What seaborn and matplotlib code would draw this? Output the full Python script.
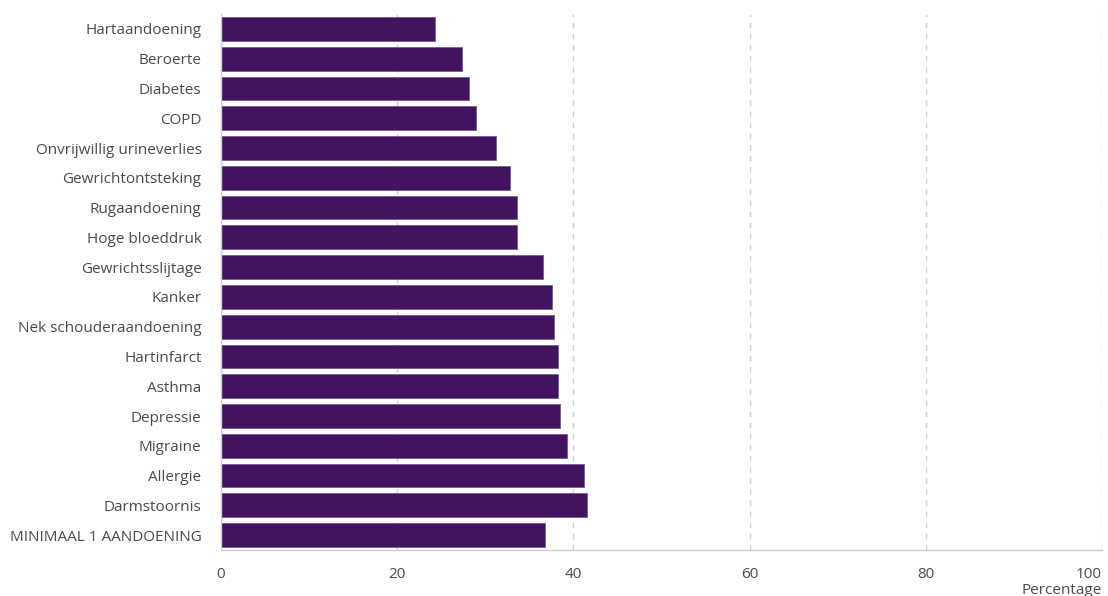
import pandas as pd
import numpy as np
import matplotlib
matplotlib.use("Agg")
import matplotlib.pyplot as plt
import seaborn as sns

# --- data ---
aandoeningen = [
    "Hartaandoening", "Beroerte", "Diabetes", "COPD",
    "Onvrijwillig urineverlies", "Gewrichtontsteking", "Rugaandoening",
    "Hoge bloeddruk", "Gewrichtsslijtage", "Kanker", "Nek schouderaandoening",
    "Hartinfarct", "Asthma", "Depressie", "Migraine", "Allergie",
    "Darmstoornis", "MINIMAAL 1 AANDOENING",
]
percentage = [
    24.3, 27.3, 28.2, 28.9, 31.2, 32.8, 33.6, 33.6, 36.6, 37.6, 37.8,
    38.2, 38.2, 38.5, 39.3, 41.2, 41.6, 36.8,
]
x_ticks = [0, 20, 40, 60, 80, 100]

df = pd.DataFrame({"Aandoening": aandoeningen, "Percentage": percentage})

sns.set_style("white")
plt.rcParams["font.family"] = ["Open Sans", "DejaVu Sans"]

fig = plt.figure(figsize=(11.08, 5.96), dpi=100)
ax = fig.add_axes([221 / 1108, 46 / 596, 881 / 1108, 536 / 596])

sns.barplot(
    data=df, y="Aandoening", x="Percentage", orient="h",
    color="#42145f", saturation=1, width=0.8,
    edgecolor="#7a5a92", linewidth=0.6, ax=ax,
)

grid_col = "#c5d0dd"
ax.set_xlim(0, 100)
ax.set_ylim(len(aandoeningen) - 0.5, -0.5)
ax.set_xticks(x_ticks)
ax.set_xticklabels([str(t) for t in x_ticks])
ax.get_xticklabels()[-1].set_horizontalalignment("right")
for t in x_ticks[1:]:
    ax.axvline(t, color=grid_col, linestyle=(0, (4, 4)), linewidth=1, zorder=0)

for s in ["top", "right"]:
    ax.spines[s].set_visible(False)
for s in ["left", "bottom"]:
    ax.spines[s].set_color(grid_col)
    ax.spines[s].set_linewidth(1)

# category separators as small ticks on the left axis
ax.set_yticks(np.arange(-0.5, len(aandoeningen), 1), minor=True)
ax.tick_params(axis="y", which="minor", length=5, color=grid_col, width=1)
ax.tick_params(axis="y", which="major", length=0, pad=14, labelsize=11,
               labelcolor="#4a4a4a")
ax.tick_params(axis="x", which="major", length=0, pad=12, labelsize=11,
               labelcolor="#4a4a4a")

ax.set_ylabel("")
ax.set_xlabel("Percentage", fontsize=11, color="#4a4a4a")
ax.xaxis.set_label_coords(1.0, -0.062)
ax.xaxis.label.set_horizontalalignment("right")

fig.savefig("out.png", dpi=100)
